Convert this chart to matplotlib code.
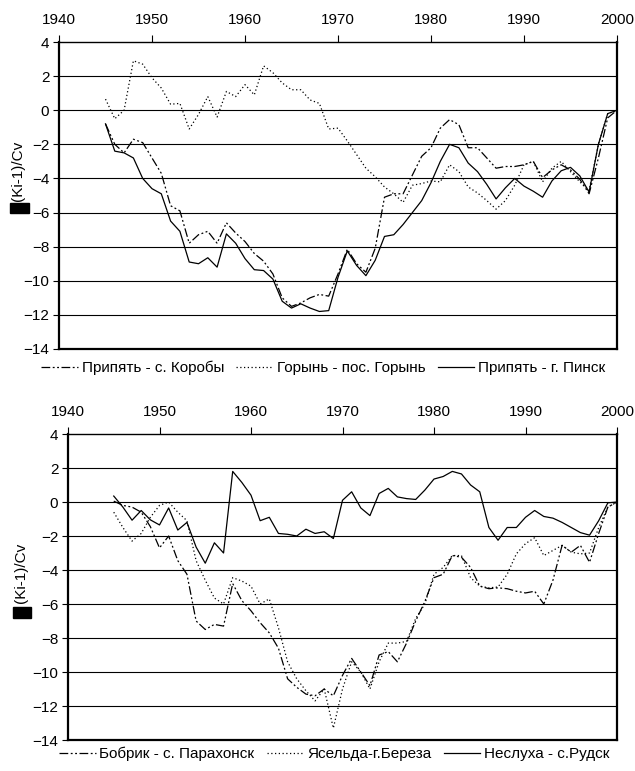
import numpy as np
import matplotlib.pyplot as plt
from matplotlib.patches import Rectangle

plt.rcParams['font.family'] = ['Liberation Sans', 'DejaVu Sans']

years = np.arange(1945, 2001)

# верхний график
korobi = [-0.8, -2.0, -2.5, -1.7, -1.9, -2.8, -3.7, -5.6, -5.9, -7.8,
          -7.3, -7.1, -7.8, -6.6, -7.2, -7.7, -8.4, -8.85, -9.6, -11.0,
          -11.5, -11.3, -11.0, -10.8, -10.9, -9.6, -8.15, -9.0, -9.5, -8.1,
          -5.1, -4.9, -4.9, -3.8, -2.7, -2.2, -1.05, -0.55, -0.85, -2.2,
          -2.2, -2.8, -3.4, -3.3, -3.3, -3.2, -3.0, -3.95, -3.5, -3.2,
          -3.5, -4.05, -4.9, -2.8, -0.45, 0.0]
goryn = [0.65, -0.5, 0.0, 2.9, 2.7, 1.9, 1.3, 0.35, 0.4, -1.1,
         -0.25, 0.8, -0.4, 1.1, 0.8, 1.5, 0.9, 2.6, 2.2, 1.6,
         1.2, 1.2, 0.6, 0.4, -1.1, -1.05, -1.8, -2.6, -3.4, -3.9,
         -4.5, -4.9, -5.4, -4.4, -4.3, -4.15, -4.2, -3.2, -3.6, -4.5,
         -4.85, -5.3, -5.8, -5.3, -4.4, -3.2, -3.0, -4.2, -3.4, -3.0,
         -3.6, -4.2, -4.7, -2.0, -0.2, 0.0]
pinsk = [-0.8, -2.4, -2.5, -2.8, -4.0, -4.6, -4.9, -6.5, -7.1, -8.9,
         -9.0, -8.65, -9.2, -7.25, -7.8, -8.7, -9.35, -9.4, -9.9, -11.2,
         -11.6, -11.35, -11.6, -11.8, -11.75, -9.8, -8.25, -9.1, -9.7, -8.8,
         -7.4, -7.3, -6.7, -6.0, -5.3, -4.25, -3.0, -2.0, -2.2, -3.1,
         -3.6, -4.35, -5.2, -4.55, -4.0, -4.45, -4.75, -5.1, -4.15, -3.55,
         -3.35, -3.85, -4.8, -2.0, -0.2, 0.0]

# нижний график
bobrik = [0.05, -0.2, -0.3, -0.6, -1.45, -2.7, -2.0, -3.45, -4.25, -7.0,
          -7.5, -7.2, -7.3, -4.8, -5.8, -6.4, -7.1, -7.7, -8.6, -10.4,
          -10.9, -11.3, -11.4, -11.0, -11.4, -10.2, -9.2, -10.0, -10.8, -9.0,
          -8.8, -9.4, -8.3, -7.0, -5.85, -4.45, -4.25, -3.15, -3.25, -3.85,
          -4.95, -5.1, -5.05, -5.1, -5.25, -5.35, -5.25, -6.0, -4.6, -2.55,
          -2.95, -2.55, -3.55, -1.85, -0.3, 0.0]
yaselda = [-0.6, -1.5, -2.3, -1.85, -0.9, -0.2, 0.0, -0.6, -1.1, -3.45,
           -4.6, -5.65, -6.0, -4.45, -4.65, -4.95, -6.0, -5.7, -7.4, -9.4,
           -10.4, -11.1, -11.7, -11.0, -13.3, -11.0, -9.4, -10.0, -11.0, -9.4,
           -8.3, -8.3, -8.2, -6.85, -6.0, -4.25, -3.85, -3.15, -3.15, -4.45,
           -4.95, -5.05, -5.0, -4.25, -3.05, -2.45, -2.1, -3.15, -2.85, -2.55,
           -2.95, -3.05, -3.0, -1.5, -0.3, 0.0]
neslukha = [0.35, -0.3, -1.07, -0.5, -1.05, -1.35, -0.35, -1.65, -1.2, -2.65,
            -3.6, -2.4, -3.0, 1.8, 1.15, 0.4, -1.1, -0.9, -1.85, -1.9,
            -2.0, -1.6, -1.85, -1.75, -2.15, 0.1, 0.6, -0.35, -0.8, 0.5,
            0.8, 0.3, 0.2, 0.15, 0.7, 1.35, 1.5, 1.8, 1.65, 1.0,
            0.6, -1.5, -2.25, -1.5, -1.5, -0.9, -0.5, -0.85, -0.95, -1.2,
            -1.5, -1.8, -1.95, -1.1, -0.05, 0.0]

x_ticks = [1940, 1950, 1960, 1970, 1980, 1990, 2000]
y_ticks = list(range(-14, 5, 2))

styles = [(0, (7, 2, 1.5, 2, 1.5, 2)), (0, (1, 2)), '-']

fig = plt.figure(figsize=(6.35, 7.71), dpi=100)


def draw_panel(rect, series, names, leg_xy):
    ax = fig.add_axes(rect)
    for yy in y_ticks[1:-1]:
        ax.axhline(yy, color='k', lw=0.8, zorder=1)
    for vals, ls, name in zip(series, styles, names):
        ax.plot(years, vals, color='k', lw=0.9, linestyle=ls, label=name, zorder=3)
    ax.set_xlim(1940, 2000)
    ax.set_ylim(-14, 4)
    ax.set_xticks(x_ticks)
    ax.set_yticks(y_ticks)
    ax.xaxis.tick_top()
    ax.tick_params(axis='x', direction='out', length=5, width=0.8, labelsize=11, pad=6)
    ax.tick_params(axis='y', direction='out', length=4, width=0.8, labelsize=11, pad=3)
    for s in ax.spines.values():
        s.set_linewidth(1.6)
    ax.spines['top'].set_linewidth(1.0)
    ax.legend(loc='center', bbox_to_anchor=leg_xy, ncol=3, frameon=False,
              fontsize=11, handlelength=2.4, handletextpad=0.25,
              columnspacing=0.8, borderpad=0, borderaxespad=0)
    return ax


ax1 = draw_panel([59 / 635, 1 - 349 / 771, 558 / 635, 307 / 771],
                 [korobi, goryn, pinsk],
                 ['Припять - с. Коробы', 'Горынь - пос. Горынь', 'Припять - г. Пинск'],
                 (0.474, -0.062))
ax2 = draw_panel([68 / 635, 1 - 740 / 771, 549 / 635, 306 / 771],
                 [bobrik, yaselda, neslukha],
                 ['Бобрик - с. Парахонск', 'Ясельда-г.Береза', 'Неслуха - с.Рудск'],
                 (0.485, -0.046))

# подписи оси Y с квадратом перед текстом
fig.text(18 / 635, 1 - 171 / 771, '(Ki-1)/Cv', rotation=90, fontsize=11,
         ha='center', va='center')
fig.text(21 / 635, 1 - 573 / 771, '(Ki-1)/Cv', rotation=90, fontsize=11,
         ha='center', va='center')
fig.add_artist(Rectangle((10 / 635, 1 - 213 / 771), 19 / 635, 10 / 771,
                         transform=fig.transFigure, color='k'))
fig.add_artist(Rectangle((13 / 635, 1 - 618 / 771), 18 / 635, 11 / 771,
                         transform=fig.transFigure, color='k'))

fig.savefig('out.png', dpi=100)
